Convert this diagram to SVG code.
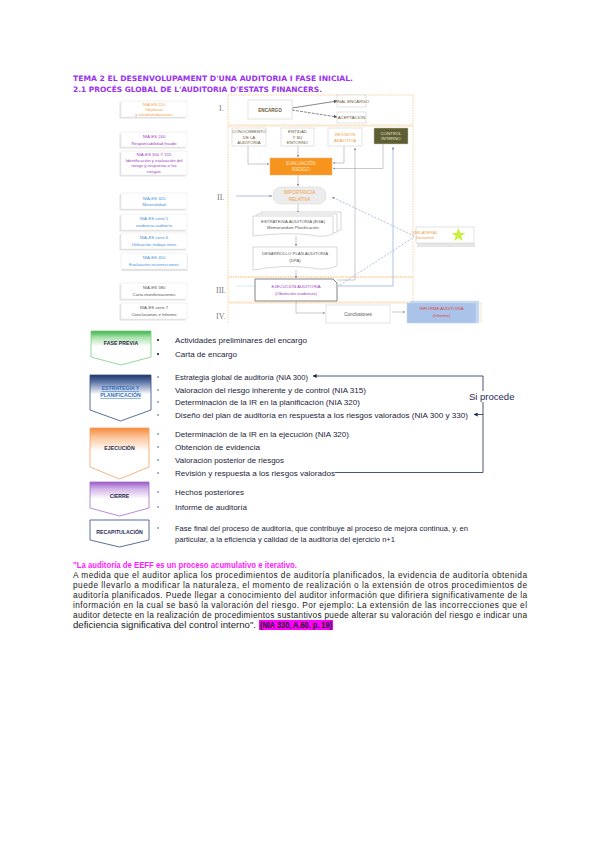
<svg xmlns="http://www.w3.org/2000/svg" width="600" height="848" viewBox="0 0 600 848">
<style>
.sec{fill:none;stroke:#f9c88a;stroke-width:0.8;stroke-dasharray:1.5 1}
.lbl{fill:#fff;stroke:#e4e4e4;stroke-width:0.5}
.shd{fill:#e2e2e2}
.t4{font-family:"Liberation Sans",Arial,sans-serif;font-size:4.3px;text-anchor:middle}
.t5{font-family:"Liberation Sans",Arial,sans-serif;font-size:4.6px;text-anchor:middle}
.nd{fill:#fff;stroke:#cfcfcf;stroke-width:0.6}
.cg{fill:none;stroke:#a4a4a4;stroke-width:0.6}
.cb{fill:none;stroke:#8ea6d6;stroke-width:0.7}
.cbd{fill:none;stroke:#8ea6d6;stroke-width:0.7;stroke-dasharray:2 1.5}
.rn{font-family:"Liberation Serif",serif;font-size:8px;fill:#777}
.b{font-family:"Liberation Sans",Arial,sans-serif;font-size:8px;fill:#1d1d3a}
.ph{font-family:"Liberation Sans",Arial,sans-serif;font-size:5.2px;font-weight:bold;text-anchor:middle}
.p{font-family:"Liberation Sans",Arial,sans-serif;font-size:8.3px;fill:#1a1a1a}
.sq{fill:#a9b3c6}
.loop{fill:none;stroke:#1f2a55;stroke-width:0.8}
</style>
<defs>
<marker id="ag" viewBox="0 0 6 6" refX="5.5" refY="3" markerWidth="4" markerHeight="4" orient="auto"><path d="M0,0 L6,3 L0,6 Z" fill="#8f8f8f"/></marker>
<marker id="ad" viewBox="0 0 6 6" refX="5.5" refY="3" markerWidth="5" markerHeight="5" orient="auto"><path d="M0,0 L6,3 L0,6 Z" fill="#555"/></marker>
<marker id="ab" viewBox="0 0 6 6" refX="5.5" refY="3" markerWidth="4" markerHeight="4" orient="auto"><path d="M0,0 L6,3 L0,6 Z" fill="#7f98cc"/></marker>
<marker id="an" viewBox="0 0 6 6" refX="5.5" refY="3" markerWidth="5" markerHeight="5" orient="auto"><path d="M0,0 L6,3 L0,6 Z" fill="#1f2a55"/></marker>
<linearGradient id="gGreen" x1="0" y1="0" x2="0" y2="1"><stop offset="0" stop-color="#33b24a"/><stop offset="0.18" stop-color="#a8e0a8"/><stop offset="0.45" stop-color="#fff"/><stop offset="1" stop-color="#fff"/></linearGradient>
<linearGradient id="gNavy" x1="0" y1="0" x2="0" y2="1"><stop offset="0" stop-color="#1f3766"/><stop offset="0.15" stop-color="#5d76a8"/><stop offset="0.42" stop-color="#fff"/><stop offset="1" stop-color="#fff"/></linearGradient>
<linearGradient id="gOrange" x1="0" y1="0" x2="0" y2="1"><stop offset="0" stop-color="#f58a3c"/><stop offset="0.18" stop-color="#fbc49a"/><stop offset="0.45" stop-color="#fff"/><stop offset="1" stop-color="#fff"/></linearGradient>
<linearGradient id="gPurple" x1="0" y1="0" x2="0" y2="1"><stop offset="0" stop-color="#9a58c8"/><stop offset="0.2" stop-color="#d2b4e8"/><stop offset="0.5" stop-color="#fff"/><stop offset="1" stop-color="#fff"/></linearGradient>
</defs>
<rect width="600" height="848" fill="#fff"/>

<!-- header -->
<g id="header" font-family="'DejaVu Sans',sans-serif" font-weight="bold" font-size="7.4" fill="#9a33f0">
<text x="73" y="81" textLength="280" lengthAdjust="spacingAndGlyphs">TEMA 2 EL DESENVOLUPAMENT D'UNA AUDITORIA I FASE INICIAL.</text>
<text x="73" y="91.5" textLength="249" lengthAdjust="spacingAndGlyphs">2.1 PROCÉS GLOBAL DE L'AUDITORIA D'ESTATS FINANCERS.</text>
</g>

<!-- sections -->
<g id="sections">
<rect class="sec" x="228" y="95" width="185" height="30"/>
<rect class="sec" x="228" y="126" width="185" height="151"/>
<rect class="sec" x="228" y="277" width="185" height="25"/>
<path class="sec" d="M228,323 V303 H481 V323"/>
</g>

<!-- left labels -->
<g id="labels">
<g id="lbl1"><rect class="shd" x="119.5" y="102.5" width="66" height="16"/><rect class="lbl" x="121" y="101" width="66" height="16"/>
<text class="t4" fill="#f0a048"><tspan x="154" y="105.5">NIA-ES 210</tspan><tspan x="154" y="110.5">Objetivos</tspan><tspan x="154" y="115.5">y recomendaciones</tspan></text></g>
<g id="lbl2"><rect class="shd" x="119.5" y="133.5" width="66" height="15"/><rect class="lbl" x="121" y="132" width="66" height="15"/>
<text class="t4" fill="#a040c0"><tspan x="154" y="138">NIA-ES 240</tspan><tspan x="154" y="144.5">Responsabilidad fraude</tspan></text></g>
<g id="lbl3"><rect class="shd" x="119.5" y="152.5" width="66" height="24"/><rect class="lbl" x="121" y="151" width="66" height="24"/>
<text class="t4" fill="#a040c0"><tspan x="154" y="156">NIA-ES 300 Y 315</tspan><tspan x="154" y="161.5">Identificación y evaluación del</tspan><tspan x="154" y="167">riesgo y respuesta a los</tspan><tspan x="154" y="172.5">riesgos</tspan></text></g>
<g id="lbl4"><rect class="shd" x="119.5" y="194.5" width="66" height="16"/><rect class="lbl" x="121" y="193" width="66" height="16"/>
<text class="t4" fill="#4a8fd8"><tspan x="154" y="199.5">NIA-ES 320</tspan><tspan x="154" y="206">Materialidad</tspan></text></g>
<g id="lbl5"><rect class="shd" x="119.5" y="215.5" width="66" height="16"/><rect class="lbl" x="121" y="214" width="66" height="16"/>
<text class="t4" fill="#4a8fd8"><tspan x="154" y="220">NIA-ES serie 5</tspan><tspan x="154" y="226.5">evidencia auditoría</tspan></text></g>
<g id="lbl6"><rect class="shd" x="119.5" y="234.5" width="66" height="16"/><rect class="lbl" x="121" y="233" width="66" height="16"/>
<text class="t4" fill="#4a8fd8"><tspan x="154" y="239">NIA-ES serie 6</tspan><tspan x="154" y="245.5">Utilización trabajo otros</tspan></text></g>
<g id="lbl7"><rect class="shd" x="121.5" y="255" width="66" height="16"/><rect class="lbl" x="121" y="253" width="66" height="16"/>
<text class="t4" fill="#4a8fd8"><tspan x="154" y="259">NIA-ES 450</tspan><tspan x="154" y="265.5">Evaluación incorrecciones</tspan></text></g>
<g id="lbl8"><rect class="shd" x="119.5" y="284.5" width="66" height="16"/><rect class="lbl" x="121" y="283" width="66" height="16"/>
<text class="t4" fill="#555"><tspan x="154" y="289">NIA-ES 580</tspan><tspan x="154" y="295.5">Carta manifestaciones</tspan></text></g>
<g id="lbl9"><rect class="shd" x="119.5" y="304.5" width="66" height="16"/><rect class="lbl" x="121" y="303" width="66" height="16"/>
<text class="t4" fill="#555"><tspan x="154" y="309">NIA-ES serie 7</tspan><tspan x="154" y="315.5">Conclusiones e Informe</tspan></text></g>
</g>

<!-- roman numerals -->
<g id="roman">
<text class="rn" x="219" y="111" font-size="6">I.</text>
<text class="rn" x="217" y="200" font-size="7">II.</text>
<text class="rn" x="216" y="293">III.</text>
<text class="rn" x="216" y="319">IV.</text>
</g>

<!-- connectors -->
<g id="connectors">
<line x1="292" y1="108" x2="337" y2="101" stroke="#555" stroke-width="0.7" marker-end="url(#ad)"/>
<line x1="292" y1="110" x2="337" y2="117" stroke="#555" stroke-width="0.7" stroke-dasharray="3 1" marker-end="url(#ad)"/>
<path class="cg" d="M248,146 V164 H269" marker-end="url(#ag)"/>
<path class="cg" d="M298,146 V157" marker-end="url(#ag)"/>
<path class="cg" d="M344,146 V163 H333" marker-end="url(#ag)"/>
<path class="cg" d="M383,144 V168.5 H333" marker-end="url(#ag)"/>
<path class="cg" d="M298,175 V186" marker-end="url(#ag)"/>
<path class="cb" d="M236,196 H272" marker-end="url(#ab)"/>
<path class="cg" d="M298,204 V213" marker-end="url(#ag)"/>
<path class="cg" d="M296,236 V246" marker-end="url(#ag)"/>
<path class="cg" d="M296,270 V278" marker-end="url(#ag)"/>
<path class="cg" d="M337,280 H355 V148" marker-end="url(#ag)"/>
<path class="cb" d="M338,286 H393 V147" marker-end="url(#ab)"/>
<path class="cbd" d="M340,285 L414,237"/>
<path class="cbd" d="M414,236 L332,197" marker-end="url(#ab)"/>
<path d="M236,286 H255" fill="none" stroke="#c9d6ec" stroke-width="0.6"/>
<path class="cg" d="M296,301 V313 H325" marker-end="url(#ag)"/>
<path class="cg" d="M392,312 H405" marker-end="url(#ag)"/>
</g>

<!-- nodes of top chart -->
<g id="encargo"><rect class="nd" x="248" y="100" width="44" height="19"/><text class="t5" x="270" y="111.5" fill="#6a5838" font-weight="bold">ENCARGO</text></g>
<g id="final-encargo"><rect class="nd" x="337" y="95" width="29" height="12"/><text class="t4" x="351.5" y="102.5" fill="#6a5838" font-size="3.6">FINAL ENCARGO</text></g>
<g id="aceptacion"><rect class="nd" x="337" y="112" width="29" height="11"/><text class="t4" x="351.5" y="119" fill="#6a5838" font-size="3.6">ACEPTACIÓN</text></g>
<g id="conocimiento"><rect class="nd" x="232" y="128" width="34" height="18"/><text class="t4" fill="#6a5838" font-size="3.8"><tspan x="249" y="133">CONOCIMIENTO</tspan><tspan x="249" y="138.5">DE LA</tspan><tspan x="249" y="144">AUDITORÍA</tspan></text></g>
<g id="entidad"><rect class="nd" x="281" y="128" width="33" height="18"/><text class="t4" fill="#6a5838" font-size="3.8"><tspan x="297.5" y="133">ENTIDAD</tspan><tspan x="297.5" y="138.5">Y SU</tspan><tspan x="297.5" y="144">ENTORNO</tspan></text></g>
<g id="revision"><rect class="nd" x="328" y="128" width="34" height="18"/><text class="t4" fill="#f0a048" font-size="3.8"><tspan x="345" y="136">REVISIÓN</tspan><tspan x="345" y="141.5">ANALÍTICA</tspan></text></g>
<g id="control"><rect x="374" y="128" width="34" height="16" fill="#5e5e34" stroke="#c8c8b0" stroke-width="0.5"/><text class="t4" fill="#e8e8d8" font-size="3.8"><tspan x="391" y="134.5">CONTROL</tspan><tspan x="391" y="140">INTERNO</tspan></text></g>
<g id="evaluacion"><rect x="270" y="158" width="62" height="17" fill="#f7941d" stroke="#f0b070" stroke-width="0.5"/><text class="t5" fill="#fde7c8"><tspan x="301" y="165">EVALUACIÓN</tspan><tspan x="301" y="171">RIESGO</tspan></text></g>
<g id="importancia"><rect x="273" y="187" width="53" height="17" rx="8" fill="#ececec" stroke="#dcdcdc" stroke-width="0.6"/><text class="t5" fill="#f0a048"><tspan x="299.5" y="194">IMPORTANCIA</tspan><tspan x="299.5" y="200.5">RELATIVA</tspan></text></g>
<g id="ega">
<path d="M261,212 H341 V230 Q330,234 320,231 Q295,228 261,232 Z" fill="#fff" stroke="#bdbdbd" stroke-width="0.6"/>
<path d="M257,214 H337 V232 Q326,236 316,233 Q291,230 257,234 Z" fill="#fff" stroke="#bdbdbd" stroke-width="0.6"/>
<path d="M253,216 H333 V234 Q322,238 312,235 Q287,232 253,236 Z" fill="#fff" stroke="#bdbdbd" stroke-width="0.6"/>
<text class="t4" fill="#555" font-size="4.2"><tspan x="293" y="223">ESTRATEGIA AUDITORÍA (EGA)</tspan><tspan x="293" y="229">Memorandum Planificación</tspan></text></g>
<g id="dpa"><path d="M253,247 H337 V266 Q325,271 312,268 Q285,264 253,270 Z" fill="#fff" stroke="#bdbdbd" stroke-width="0.6"/>
<text class="t4" fill="#555" font-size="4.4"><tspan x="295" y="255">DESARROLLO PLAN AUDITORÍA</tspan><tspan x="295" y="262">(DPA)</tspan></text></g>
<g id="ejecucion"><path d="M255,279 H333 L337,283 V301 H255 Z" fill="#fff" stroke="#777" stroke-width="0.9"/>
<text class="t4" fill="#9a40b8" font-size="4.4"><tspan x="296" y="288">EJECUCIÓN AUDITORÍA</tspan><tspan x="296" y="295">(Obtención evidencia)</tspan></text></g>
<g id="conclusiones"><rect class="nd" x="326" y="305" width="64" height="18"/><text class="t5" x="358" y="316" fill="#555" font-size="5.6">Conclusiones</text></g>
<g id="informe"><rect x="410" y="301" width="69" height="22" fill="#c4d7ef" stroke="#d8e2f0" stroke-width="0.5"/><rect x="407" y="303" width="69" height="20" fill="#a9c4e8" stroke="#c8d6ea" stroke-width="0.5"/>
<text class="t4" fill="#e04040" font-size="4.4"><tspan x="441.5" y="310">INFORME AUDITORÍA</tspan><tspan x="441.5" y="317">(Informe)</tspan></text></g>
<g id="unilateral"><rect x="417" y="243" width="58" height="4" fill="#e6e6e6"/><rect class="nd" x="416" y="227" width="58" height="16" stroke="#e2e2e2"/>
<text class="t4" fill="#f0a048" text-anchor="start" font-size="3.8"><tspan x="425" y="233.5">UNILATERAL</tspan><tspan x="425" y="239">Dictamen</tspan></text>
<polygon points="458.5,228 460.3,233 465.5,233 461.3,236 462.8,241 458.5,238 454.2,241 455.7,236 451.5,233 456.7,233" fill="#c8f03c"/></g>

<!-- phases -->
<g id="fase-previa"><path d="M91,331 H151 V357 L121,365 L91,357 Z" fill="url(#gGreen)" stroke="#7ccf7c" stroke-width="0.8"/><text class="ph" x="121" y="345" fill="#2a2a4a">FASE PREVIA</text></g>
<g id="estrategia"><path d="M90,375 H151 V410 L120.5,421 L90,410 Z" fill="url(#gNavy)" stroke="#2f4a80" stroke-width="0.8"/><text class="ph" fill="#2e6fc0" text-decoration="underline"><tspan x="120.5" y="390">ESTRATEGIA Y</tspan><tspan x="120.5" y="397">PLANIFICACIÓN</tspan></text></g>
<g id="ejecucion-fase"><path d="M90,428 H149 V467 L119.5,479 L90,467 Z" fill="url(#gOrange)" stroke="#f7a060" stroke-width="0.8"/><text class="ph" x="119.5" y="450" fill="#2a2a4a">EJECUCIÓN</text></g>
<g id="cierre"><path d="M90,482 H149 V508 L119.5,516 L90,508 Z" fill="url(#gPurple)" stroke="#a070c8" stroke-width="0.8"/><text class="ph" x="119.5" y="498" fill="#2a2a4a">CIERRE</text></g>
<g id="recapitulacion"><path d="M90,520 H149 V540 L119.5,547 L90,540 Z" fill="#fff" stroke="#2f4a80" stroke-width="0.8"/><text class="ph" x="119.5" y="534" fill="#1f2a55">RECAPITULACIÓN</text></g>

<!-- bullets -->
<g id="bullets">
<circle cx="158" cy="340" r="1.1" fill="#222"/><circle cx="158" cy="354" r="1.1" fill="#222"/>
<rect class="sq" x="157" y="376" width="2" height="2"/><rect class="sq" x="157" y="389" width="2" height="2"/><rect class="sq" x="157" y="401" width="2" height="2"/><rect class="sq" x="157" y="414" width="2" height="2"/>
<rect class="sq" x="157" y="433" width="2" height="2"/><rect class="sq" x="157" y="446" width="2" height="2"/><rect class="sq" x="157" y="459" width="2" height="2"/><rect class="sq" x="157" y="472" width="2" height="2"/>
<rect class="sq" x="157" y="491" width="2" height="2"/><rect class="sq" x="157" y="506" width="2" height="2"/>
<rect class="sq" x="157" y="527" width="2" height="2"/>
<text class="b" x="175" y="343" textLength="132" lengthAdjust="spacingAndGlyphs">Actividades preliminares del encargo</text>
<text class="b" x="175" y="357" textLength="62" lengthAdjust="spacingAndGlyphs">Carta de encargo</text>
<text class="b" x="175" y="379.5" textLength="133" lengthAdjust="spacingAndGlyphs">Estrategia global de auditoría (NIA 300)</text>
<text class="b" x="175" y="392.5" textLength="191" lengthAdjust="spacingAndGlyphs">Valoración del riesgo inherente y de control (NIA 315)</text>
<text class="b" x="175" y="405" textLength="185" lengthAdjust="spacingAndGlyphs">Determinación de la IR en la planificación (NIA 320)</text>
<text class="b" x="175" y="418" textLength="293" lengthAdjust="spacingAndGlyphs">Diseño del plan de auditoría en respuesta a los riesgos valorados (NIA 300 y 330)</text>
<text class="b" x="175" y="437" textLength="174" lengthAdjust="spacingAndGlyphs">Determinación de la IR en la ejecución (NIA 320)</text>
<text class="b" x="175" y="450" textLength="85" lengthAdjust="spacingAndGlyphs">Obtención de evidencia</text>
<text class="b" x="175" y="463" textLength="109" lengthAdjust="spacingAndGlyphs">Valoración posterior de riesgos</text>
<text class="b" x="175" y="475.5" textLength="160" lengthAdjust="spacingAndGlyphs">Revisión y respuesta a los riesgos valorados</text>
<text class="b" x="175" y="495" textLength="69" lengthAdjust="spacingAndGlyphs">Hechos posteriores</text>
<text class="b" x="175" y="510" textLength="72" lengthAdjust="spacingAndGlyphs">Informe de auditoría</text>
<text class="b" x="175" y="530.5" textLength="293" lengthAdjust="spacingAndGlyphs">Fase final del proceso de auditoría, que contribuye al proceso de mejora continua, y, en</text>
<text class="b" x="175" y="542" textLength="220" lengthAdjust="spacingAndGlyphs">particular, a la eficiencia y calidad de la auditoría del ejercicio n+1</text>
</g>

<!-- loop arrow -->
<g id="loop">
<path class="loop" d="M335,472.5 H483 V376 H313" marker-end="url(#an)"/>
<path class="loop" d="M483,414.5 H474" marker-end="url(#an)"/>
<rect x="468" y="391" width="54" height="11" fill="#fff"/>
<text x="469" y="399.5" font-family="'Liberation Sans',Arial,sans-serif" font-size="9.5" fill="#1f2a55">Si procede</text>
</g>

<!-- bottom paragraph -->
<g id="quote">
<text x="73" y="568" font-family="'Liberation Sans',Arial,sans-serif" font-weight="bold" font-size="8.3" fill="#ff1aff" textLength="224" lengthAdjust="spacingAndGlyphs">"La auditoría de EEFF es un proceso acumulativo e iterativo.</text>
<text class="p" x="73" y="578" textLength="454" lengthAdjust="spacing">A medida que el auditor aplica los procedimientos de auditoría planificados, la evidencia de auditoría obtenida</text>
<text class="p" x="73" y="588" textLength="454" lengthAdjust="spacing">puede llevarlo a modificar la naturaleza, el momento de realización o la extensión de otros procedimientos de</text>
<text class="p" x="73" y="597.5" textLength="454" lengthAdjust="spacing">auditoría planificados. Puede llegar a conocimiento del auditor información que difiriera significativamente de la</text>
<text class="p" x="73" y="607.5" textLength="454" lengthAdjust="spacing">información en la cual se basó la valoración del riesgo. Por ejemplo: La extensión de las incorrecciones que el</text>
<text class="p" x="73" y="617.5" textLength="454" lengthAdjust="spacing">auditor detecte en la realización de procedimientos sustantivos puede alterar su valoración del riesgo e indicar una</text>
<text class="p" x="73" y="627.5" textLength="183" lengthAdjust="spacingAndGlyphs">deficiencia significativa del control interno".</text>
<rect x="259" y="620" width="74" height="10" fill="#ff00ff"/>
<text x="260" y="627.5" font-family="'Liberation Sans',Arial,sans-serif" font-weight="bold" font-size="8.3" fill="#1a1a1a" textLength="72" lengthAdjust="spacingAndGlyphs">(NIA 330, A.60. p. 19)</text>
</g>
</svg>
